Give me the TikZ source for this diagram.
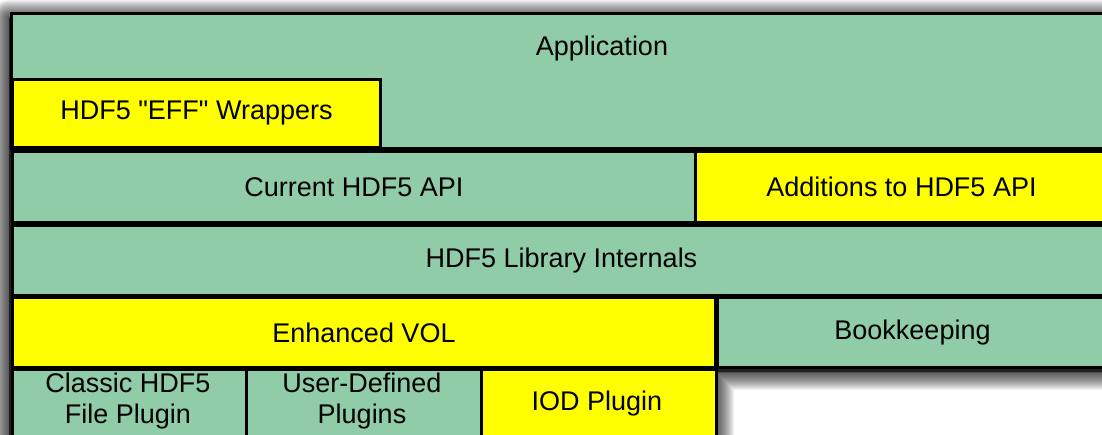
\documentclass[tikz,border=0pt]{standalone}
\usepackage{fontspec}
\newfontfamily\plainsans{Liberation Sans}
\definecolor{boxgreen}{HTML}{91CCA8}
\definecolor{boxyellow}{HTML}{FFFF00}
\begin{document}
\begin{tikzpicture}[x=1pt,y=-1pt,
  box/.style={draw=black, line width=3pt, anchor=north west, inner sep=0pt,
    align=center, text=black,
    font=\plainsans\fontsize{27}{31}\selectfont},
  gbox/.style={box, fill=boxgreen},
  ybox/.style={box, fill=boxyellow},
  txt/.style={text=black, font=\plainsans\fontsize{27}{31}\selectfont, align=center},
  shadowlayer/.style={draw=black, fill=black, draw opacity=0.05, fill opacity=0.05, line join=round}]
\useasboundingbox (0,0) rectangle (1102,435);
\fill[white] (0,0) rectangle (1102,435);
\begin{scope}
\clip (0,0) rectangle (1102,435);
% soft shadow of the whole stack
\begin{scope}[shift={(0,6)}]
\foreach \r in {1,...,18}{
  \path[shadowlayer, line width=2*\r pt]
    (9,12) -- (1125,12) -- (1125,366) -- (716,366) -- (716,460) -- (9,460) -- cycle;
}
\end{scope}
% row 1
\node[gbox, minimum width=1190pt, minimum height=135pt] (app) at (9.5,12) {};
\node[txt] (apptext) at (602,49) {Application};
\node[ybox, minimum width=368pt, minimum height=68pt] (eff) at (11,78) {HDF5 "EFF" Wrappers};
% row 2
\node[gbox, minimum width=683pt, minimum height=71pt] (cur) at (11,150) {Current HDF5 API};
\node[ybox, minimum width=412pt, minimum height=71pt] (add) at (694,150) {Additions to HDF5 API};
% row 3
\node[gbox, minimum width=1098pt, minimum height=70pt] (lib) at (11,224) {HDF5 Library Internals};
% row 4
\node[ybox, minimum width=703pt, minimum height=70pt] (vol) at (11,296) {Enhanced VOL};
\node[gbox, minimum width=390pt, minimum height=70pt] (book) at (716,296) {Bookkeeping};
% row 5
\node[gbox, minimum width=234pt, minimum height=90pt] (classic) at (11,368) {};
\node[txt] (classictext) at (128,401) {Classic HDF5\\File Plugin};
\node[gbox, minimum width=235pt, minimum height=90pt] (user) at (245,368) {};
\node[txt] (usertext) at (362,401) {User-Defined\\Plugins};
\node[ybox, minimum width=234.5pt, minimum height=90pt] (iod) at (480,368) {};
\node[txt] (iodtext) at (597,404) {IOD Plugin};
\end{scope}
\end{tikzpicture}
\end{document}
